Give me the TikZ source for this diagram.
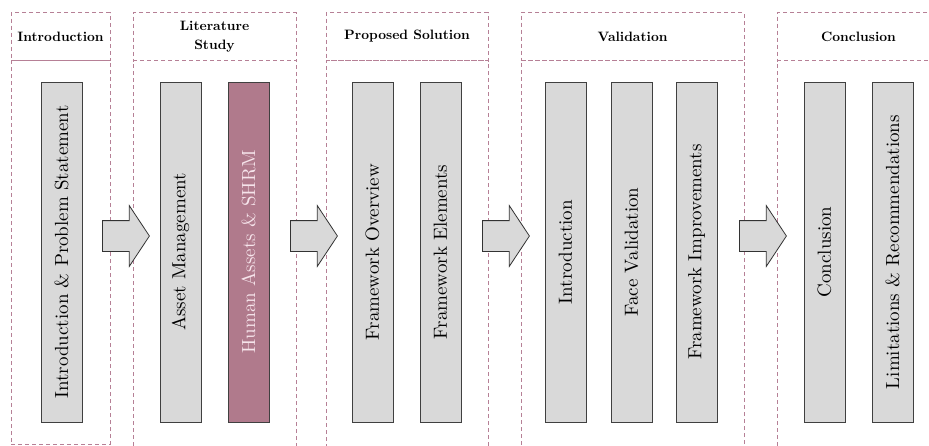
\documentclass[tikz,border=0pt]{standalone}
\usepackage{fontspec}
\usepackage{tikz}
\usetikzlibrary{shapes.arrows}
\newfontfamily\barfont{lmroman10-regular.otf}
\newfontfamily\headfont{lmroman10-bold.otf}
\definecolor{mauve}{RGB}{182,128,150}
\definecolor{barfill}{RGB}{217,217,217}
\definecolor{hlfill}{RGB}{176,122,140}
\definecolor{hltext}{RGB}{246,228,235}

\begin{document}
\begin{tikzpicture}[x=1pt,y=-1pt]
\tikzstyle{phase}=[draw=mauve,dash pattern=on 4pt off 3pt,line width=0.8pt,inner sep=0pt];
\tikzstyle{head}=[phase,font=\headfont\fontsize{13.6}{19}\selectfont,align=center];
\tikzstyle{bar}=[draw=black!75,fill=barfill,line width=0.8pt,rotate=90,minimum width=340pt,minimum height=41pt,inner sep=0pt,font=\barfont\fontsize{19}{21}\selectfont];
\tikzstyle{hl}=[fill=hlfill,text=hltext];
\tikzstyle{flow}=[single arrow,draw=black!80,fill=barfill,line width=0.8pt,minimum height=47pt,inner xsep=0pt,inner ysep=15pt,single arrow head extend=15pt,single arrow tip angle=113,anchor=tail];
\useasboundingbox (0,0) rectangle (929,445);
\clip (0,0) rectangle (929,445);
% phases
\foreach \n/\l/\r/\b/\t in {intro/11/110/444/Introduction, lit/133/296/452/{Literature\\Study}, prop/326/488/452/Proposed Solution, val/521/744/452/Validation, conc/777/940/452/Conclusion}
{
\node[head,minimum width=\r pt-\l pt,minimum height=48pt] (\n-head) at ({(\l+\r)/2},36.5) {\t};
\node[phase,minimum width=\r pt-\l pt,minimum height=\b pt-60.5pt] (\n-body) at ({(\l+\r)/2},{(60.5+\b)/2}) {};
}
% chapters
\foreach \n/\x/\t in {c1/61.5/Introduction \& Problem Statement, c2/180.5/Asset Management, c4/372.5/Framework Overview, c5/440.5/Framework Elements, c6/565.5/Introduction, c7/631.5/Face Validation, c8/696.5/Framework Improvements, c9/824.5/Conclusion, c10/892.5/Limitations \& Recommendations}
{
\node[bar] (\n) at (\x,252) {\t};
}
\node[bar,hl] (c3) at (248.5,252) {Human Assets \& SHRM};
% arrows between phases
\foreach \n/\x in {a1/102, a2/290, a3/482, a4/739}
{
\node[flow] (\n) at (\x,236) {};
}
\end{tikzpicture}
\end{document}
